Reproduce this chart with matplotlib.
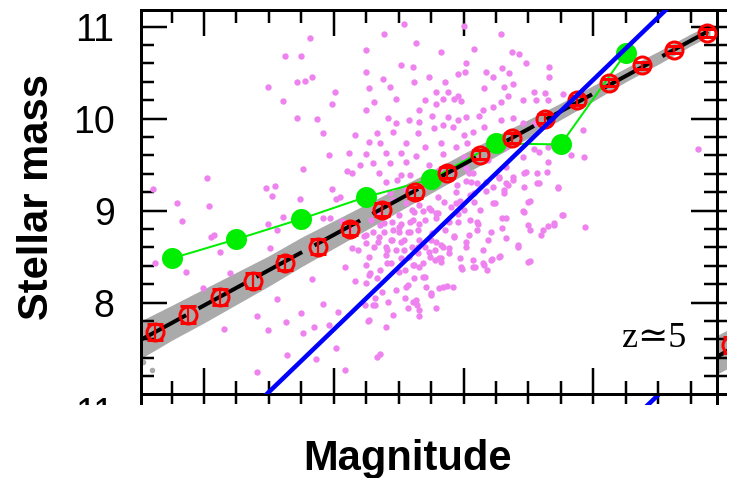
"""z~5 stellar mass vs magnitude panel (cropped from a multi-panel figure)."""
import numpy as np
import matplotlib
matplotlib.use("Agg")
import matplotlib.pyplot as plt
from matplotlib.patches import Rectangle
from matplotlib.ticker import MultipleLocator

# --- data -----------------------------------------------------------------
# median relation (red open circles with error bars)
red_m = [-16.625, -16.875, -17.125, -17.375, -17.625, -17.875, -18.125, -18.375, -18.625,
         -18.875, -19.125, -19.375, -19.625, -19.875, -20.125, -20.375, -20.625, -20.875]
red_mass = [7.68, 7.87, 8.06, 8.24, 8.43, 8.61, 8.80, 9.01, 9.20,
            9.41, 9.61, 9.79, 10.00, 10.20, 10.39, 10.58, 10.75, 10.93]
red_err = [0.09, 0.09, 0.09, 0.08, 0.08, 0.08, 0.07, 0.07, 0.06,
           0.06, 0.05, 0.05, 0.05, 0.05, 0.04, 0.04, 0.04, 0.04]

# observed bins (green)
green_m = [-16.75, -17.25, -17.75, -18.25, -18.75, -19.25, -19.75, -20.25]
green_mass = [8.48, 8.69, 8.91, 9.15, 9.34, 9.73, 9.72, 10.71]

# linear fit (black dashed) and reference relation (blue)
black_m = [-16.51, -20.95]
black_mass = [7.594, 11.0]
blue_m = [-17.0, -21.0]
blue_mass = [6.35, 11.78]

# grey model cloud, drawn as its envelope
band_m = [-16.51, -16.75, -17.0, -17.25, -17.5, -17.75, -18.0, -18.25, -18.5, -18.75,
          -19.0, -19.25, -19.5, -19.75, -20.0, -20.25, -20.5, -20.75, -20.9]
band_hi = [7.80, 7.97, 8.15, 8.33, 8.51, 8.71, 8.89, 9.07, 9.25, 9.43,
           9.62, 9.81, 9.99, 10.17, 10.36, 10.55, 10.73, 10.92, 11.02]
band_lo = [7.39, 7.59, 7.78, 7.98, 8.18, 8.39, 8.59, 8.79, 8.99, 9.19,
           9.39, 9.59, 9.79, 9.99, 10.19, 10.40, 10.59, 10.79, 10.90]
grey_m = [-16.60, -16.53]
grey_mass = [7.27, 7.36]

# individual galaxies (violet dots)
pink_m = [
    -17.82, -17.62, -17.75, -17.83, -17.72, -17.78, -17.49, -18.01, -17.61, -17.99,
    -17.72, -17.87, -17.92, -18.16, -17.96, -18.12, -17.76, -18.10, -18.14, -18.20,
    -17.02, -16.61, -17.48, -17.55, -17.99, -16.79, -17.04, -17.52, -17.74, -18.02,
    -18.05, -16.83, -17.05, -17.08, -17.12, -17.49, -17.56, -17.61, -17.92, -17.97,
    -18.06, -18.12, -16.62, -16.86, -17.20, -17.51, -18.14, -18.19, -17.83, -18.16,
    -18.09, -16.99, -17.56, -17.92, -18.03, -17.75, -17.41, -17.63, -17.96, -17.15,
    -17.49, -17.85, -17.76, -18.02, -17.64, -17.86, -17.41, -18.09, -18.26, -18.40,
    -18.46, -18.24, -18.32, -18.33, -18.36,
    -18.54, -19.00, -19.29, -18.39, -18.63, -18.25, -18.83, -19.08, -19.37, -19.43,
    -18.52, -18.61, -19.02, -19.48, -19.66, -19.30, -18.25, -19.17, -19.01, -18.73,
    -18.96, -19.23, -19.35, -18.38, -18.62, -18.86, -19.66, -19.38, -18.27, -18.43,
    -18.79, -18.88, -18.96, -19.16, -19.31, -19.54, -19.63, -19.77, -18.31, -18.48,
    -18.66, -18.70, -18.79, -18.84, -18.93, -18.98, -19.15, -19.23, -19.29, -19.34,
    -19.46, -19.56, -19.65, -18.25, -18.42, -18.58, -18.66, -18.76, -18.88, -18.96,
    -19.02, -19.12, -19.16, -19.29, -19.38, -19.46, -19.54, -18.48, -18.33, -18.46,
    -18.65, -18.77, -18.84, -18.92, -19.00, -19.07, -18.27, -18.36, -18.56, -18.70,
    -18.83, -18.94, -19.03, -19.31, -19.54, -19.65, -18.25, -18.40, -18.52, -18.63,
    -18.84, -19.00, -19.19, -19.46, -19.58, -19.65, -19.83, -19.93, -18.30, -18.43,
    -18.56, -18.73, -18.90, -19.02, -19.33, -19.48, -19.57, -18.35, -18.52, -18.59,
    -18.81, -19.04, -19.27, -19.38, -18.40, -18.49, -18.70, -19.06, -19.17, -19.23,
    -19.34, -19.47, -19.57, -19.73, -18.25, -18.43, -18.56, -18.94, -19.08, -19.31,
    -18.31, -18.46, -18.56, -18.66, -18.80, -18.85, -18.94, -19.08, -19.23, -19.50,
    -18.33, -18.50, -18.62, -18.73, -18.80, -19.00, -19.13, -19.47, -19.77, -18.29,
    -18.39, -18.50, -18.59, -18.70, -18.79, -18.89, -19.10, -19.30, -19.30, -19.50,
    -19.61, -19.70, -19.94, -18.46, -18.57, -18.65, -18.76, -18.86, -18.25, -18.35,
    -18.44, -18.52, -18.66, -18.79, -18.93, -19.04, -19.33, -19.60, -18.31, -18.40,
    -18.54, -18.65, -18.73, -18.84, -19.02, -19.15, -18.27, -18.40, -18.58, -18.81,
    -18.89, -19.27, -19.42, -18.25, -18.44, -18.62, -18.83, -18.98, -19.07, -19.15,
    -19.21, -19.50, -18.36, -18.50, -18.66, -18.27, -18.69, -18.84, -18.92, -18.71,
    -18.56, -18.48, -18.75, -18.63, -18.42, -18.30, -18.79, -18.66, -18.57, -18.27,
    -20.81, -19.92,
    -19.27, -19.33, -19.38, -19.47, -19.64, -19.58, -19.73, -19.31, -19.17, -19.24,
    -19.51, -19.46, -19.76, -19.33, -19.70, -19.65, -19.51, -19.21, -19.10, -19.05,
    -18.96, -18.96, -19.11, -19.19, -19.02, -18.93, -18.97, -19.07, -19.22, -19.28,
    -19.42, -19.51, -19.16, -19.09, -18.99, -19.18, -18.95, -19.02, -19.10, -19.07,
    -19.05, -18.97, -18.90,
    -18.83, -18.89, -18.83, -18.78, -18.74, -18.69, -18.61, -18.55, -18.62, -18.70,
    -18.57, -18.81, -18.87, -18.75, -18.55, -18.61, -18.64, -18.66, -18.32, -18.37,
    -18.25, -18.28, -18.33, -18.41, -18.52, -18.60, -18.65, -18.70, -18.75, -18.78,
    -18.48, -18.41, -18.34, -18.25, -18.45, -18.54, -18.59, -18.50, -18.39, -18.30,
    -18.23, -18.36, -18.45, -18.52, -18.61, -18.66, -18.60, -18.69, -18.75, -18.79]
pink_mass = [
    10.88, 10.68, 10.68, 10.45, 10.40, 10.41, 10.34, 10.29, 10.19, 10.16,
    10.01, 10.00, 9.84, 9.82, 9.61, 9.63, 9.45, 9.43, 9.41, 9.50,
    9.36, 9.23, 9.25, 9.27, 9.24, 9.08, 9.05, 9.16, 9.13, 9.13,
    9.15, 8.89, 8.71, 8.74, 8.55, 8.86, 8.79, 8.93, 8.92, 8.92,
    8.89, 8.81, 8.43, 8.33, 8.32, 8.59, 8.59, 8.57, 8.26, 8.24,
    8.39, 8.16, 8.04, 7.99, 7.90, 7.89, 7.86, 7.79, 7.76, 7.71,
    7.70, 7.73, 7.67, 7.51, 7.43, 7.39, 7.25, 7.27, 7.80, 7.74,
    7.87, 7.97, 7.97, 7.41, 7.44,
    11.03, 11.01, 10.92, 10.92, 10.82, 10.75, 10.72, 10.76, 10.72, 10.70,
    10.58, 10.56, 10.61, 10.61, 10.56, 10.55, 10.51, 10.51, 10.51, 10.45,
    10.48, 10.45, 10.50, 10.43, 10.40, 10.40, 10.45, 10.38, 10.33, 10.34,
    10.29, 10.29, 10.25, 10.33, 10.34, 10.29, 10.28, 10.27, 10.18, 10.21,
    10.09, 10.20, 10.16, 10.21, 10.21, 10.19, 10.09, 10.13, 10.18, 10.25,
    10.20, 10.20, 10.20, 10.09, 10.01, 9.99, 9.96, 10.03, 10.02, 9.99,
    10.02, 10.03, 9.91, 9.99, 10.01, 9.95, 9.95, 9.95, 9.84, 9.86,
    9.84, 9.90, 9.93, 9.91, 9.82, 9.86, 9.75, 9.74, 9.74, 9.69,
    9.74, 9.69, 9.74, 9.68, 9.67, 9.69, 9.62, 9.63, 9.63, 9.59,
    9.62, 9.58, 9.55, 9.58, 9.64, 9.53, 9.61, 9.58, 9.52, 9.52,
    9.53, 9.50, 9.44, 9.46, 9.47, 9.42, 9.41, 9.41, 9.39, 9.39,
    9.44, 9.41, 9.37, 9.33, 9.31, 9.33, 9.28, 9.31, 9.31, 9.26,
    9.28, 9.26, 9.30, 9.25, 9.20, 9.19, 9.23, 9.20, 9.19, 9.19,
    9.09, 9.12, 9.08, 9.06, 9.15, 9.09, 9.08, 9.09, 9.08, 9.09,
    8.97, 8.95, 8.99, 9.03, 8.97, 9.01, 9.01, 8.99, 8.95, 8.90,
    8.87, 8.82, 8.88, 8.90, 8.92, 8.88, 8.88, 8.92, 8.81, 8.84,
    8.79, 8.87, 8.82, 8.79, 8.77, 8.79, 8.76, 8.79, 8.74, 8.71,
    8.68, 8.66, 8.68, 8.66, 8.71, 8.74, 8.70, 8.74, 8.61, 8.60,
    8.57, 8.60, 8.55, 8.61, 8.60, 8.57, 8.50, 8.52, 8.50, 8.49,
    8.54, 8.50, 8.61, 8.41, 8.43, 8.41, 8.44, 8.39, 8.39, 8.43,
    8.46, 8.44, 8.36, 8.33, 8.39, 8.30, 8.28, 8.17, 8.17, 8.17,
    8.17, 8.14, 8.11, 8.03, 8.01, 7.97, 7.94, 7.92, 7.94, 7.81,
    9.67, 9.88,
    9.35, 9.30, 9.37, 9.41, 9.42, 9.30, 9.26, 9.22, 9.21, 9.08,
    9.10, 9.00, 8.95, 8.92, 8.84, 8.83, 8.79, 8.77, 8.79, 8.90,
    8.88, 8.96, 8.86, 8.68, 8.66, 8.72, 8.48, 8.46, 8.47, 8.51,
    8.63, 8.45, 8.41, 8.39, 8.37, 8.36, 9.28, 9.32, 9.30, 9.41,
    9.17, 9.10, 9.04,
    8.63, 8.59, 8.48, 8.46, 8.50, 8.43, 8.41, 8.36, 8.27, 8.28,
    8.19, 8.16, 8.18, 8.08, 8.05, 8.01, 7.97, 7.85, 8.05, 8.12,
    8.21, 8.32, 8.27, 8.43, 8.48, 8.61, 8.54, 8.61, 8.68, 8.57,
    8.57, 8.57, 8.66, 8.65, 8.68, 8.68, 8.77, 8.77, 8.77, 8.77,
    8.72, 8.84, 8.88, 8.86, 8.90, 8.86, 9.01, 9.00, 9.01, 8.97]

# neighbouring panels that show at the crop edges
right_line_m = [-16.51, -17.5]
right_line_mass = [7.41, 8.17]
right_band_m = [-16.51, -16.75, -17.0]
right_band_lo = [7.22, 7.40, 7.60]
right_band_hi = [7.64, 7.82, 8.00]
right_red_m = [-16.625]
right_red_mass = [7.54]
below_blue_m = [-20.0, -21.0]
below_blue_mass = [10.49, 11.85]

XLIM = (-16.51, -20.95)
YLIM = (7.007, 11.181)

# --- figure ---------------------------------------------------------------
W, H = 732, 478
fig = plt.figure(figsize=(W / 100, H / 100), dpi=100)
PX = 0.72  # points per pixel at dpi 100


def frac(x0, y0, w, h):
    return [x0 / W, 1 - (y0 + h) / H, w / W, h / H]


def style(ax, lw=3.0):
    for s in ax.spines.values():
        s.set_linewidth(lw * PX)
    ax.set_xlim(*XLIM)
    ax.set_ylim(*YLIM)
    ax.xaxis.set_major_locator(MultipleLocator(1))
    ax.xaxis.set_minor_locator(MultipleLocator(0.25))
    ax.yaxis.set_major_locator(MultipleLocator(1))
    ax.yaxis.set_minor_locator(MultipleLocator(0.2))


tick_family = ["Liberation Sans", "DejaVu Sans"]
tick_size = 27
red_kw = dict(fmt="o", mfc="none", mec="red", ecolor="red", ms=17 * PX, mew=3 * PX,
              elinewidth=2.2 * PX, capsize=8 * PX, capthick=2.8 * PX)

# neighbour below (only its top strip survives the crop)
axb = fig.add_axes(frac(140.5, 394, 576, 384))
style(axb)
axb.set_yticks([11])
axb.plot(below_blue_m, below_blue_mass, color="#0000ff", lw=4.5 * PX)
axb.tick_params(which="both", direction="in", top=True, bottom=False, right=False,
                labelbottom=False, width=2.5 * PX, length=10 * PX)
axb.tick_params(axis="y", which="both", length=0, pad=26 * PX)
for t in axb.get_yticklabels():
    t.set_fontfamily(tick_family); t.set_fontsize(tick_size)

# neighbour to the right
axr = fig.add_axes(frac(716.5, 10, 576, 384))
style(axr)
axr.fill_between(right_band_m, right_band_lo, right_band_hi, color="#aaaaaa", lw=0)
axr.plot(right_line_m, right_line_mass, color="k", lw=4 * PX)
axr.errorbar(right_red_m, right_red_mass, yerr=[0.09], **red_kw)
axr.tick_params(which="both", direction="in", left=True, right=False, top=False,
                bottom=False, labelleft=False, labelbottom=False,
                width=2.5 * PX, length=10 * PX)

# main panel
ax = fig.add_axes(frac(140.5, 10, 576, 384))
style(ax)
ax.fill_between(band_m, band_lo, band_hi, color="#aaaaaa", lw=0, zorder=1)
ax.scatter(grey_m, grey_mass, s=16, color="#aaaaaa", lw=0, zorder=1)
ax.scatter(pink_m, pink_mass, s=21, color="violet", lw=0, zorder=2)
ax.plot(green_m, green_mass, color="#00ee00", lw=2 * PX, zorder=3)
ax.plot(black_m, black_mass, color="k", lw=4 * PX, dashes=(13, 3.5), zorder=4)
ax.plot(green_m, green_mass, "o", color="#00ee00", ms=21 * PX, mew=0, zorder=5)
ax.errorbar(red_m, red_mass, yerr=red_err, zorder=6, **red_kw)
ax.plot(blue_m, blue_mass, color="#0000ff", lw=4.5 * PX, zorder=7)

ax.tick_params(which="both", direction="in", top=True, right=True,
               labelbottom=False, width=2.5 * PX)
ax.tick_params(which="major", length=26 * PX, pad=26 * PX)
ax.tick_params(which="minor", length=13 * PX)
for t in ax.get_yticklabels():
    t.set_fontfamily(tick_family); t.set_fontsize(tick_size)

ax.text(0.947, 0.122, "z≃5", transform=ax.transAxes, ha="right", va="baseline",
        fontsize=26, family=["Liberation Serif", "DejaVu Serif"])

# crop edges of the original figure
fig.add_artist(Rectangle((0, 0), 1, (H - 404.5) / H, transform=fig.transFigure,
                         facecolor="white", edgecolor="none", zorder=20))
fig.add_artist(Rectangle((727 / W, 0), 1, 1, transform=fig.transFigure,
                         facecolor="white", edgecolor="none", zorder=20))

fig.text(37 / W, 1 - 197.5 / H, "Stellar mass", rotation=90, ha="center", va="center",
         fontsize=30, fontweight="bold", family=["Liberation Sans", "DejaVu Sans"],
         zorder=21)
fig.text(408 / W, (H - 470) / H, "Magnitude", ha="center", va="baseline",
         fontsize=30, fontweight="bold", family=["Liberation Sans", "DejaVu Sans"],
         zorder=21)

fig.savefig("out.png", dpi=100)
